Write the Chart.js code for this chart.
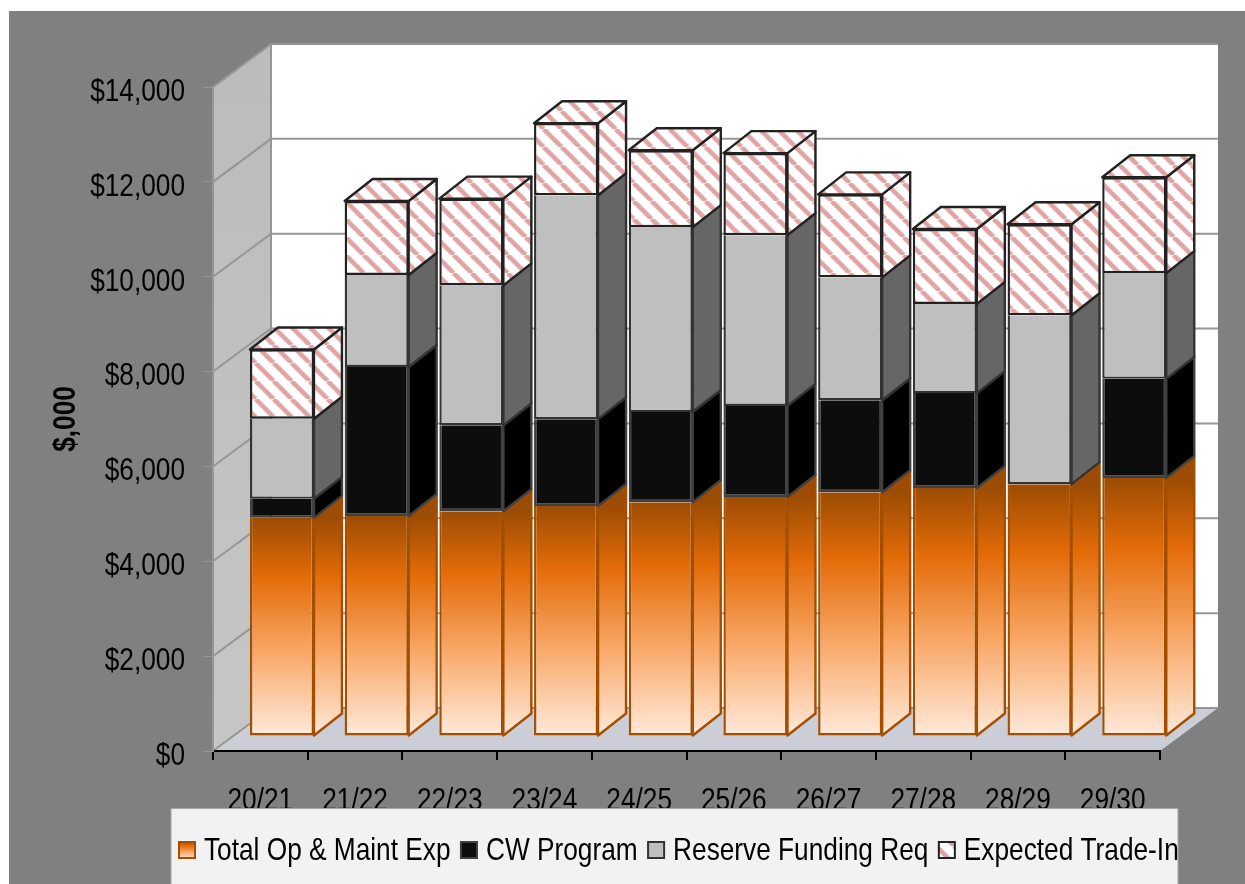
<!DOCTYPE html>
<html>
<head>
<meta charset="utf-8">
<title>Funding by year</title>
<script src="https://cdn.jsdelivr.net/npm/chart.js@4"></script>
<style>
  body { margin: 0; background: #fff; }
  canvas { display: block; }
</style>
</head>
<body>
<canvas id="barChart" width="1245" height="884"></canvas>
<script>
const years = ['20/21', '21/22', '22/23', '23/24', '24/25', '25/26', '26/27', '27/28', '28/29', '29/30'];
const seriesNames = ['Total Op & Maint Exp', 'CW Program', 'Reserve Funding Req', 'Expected Trade-In'];
const opMaint = [4600, 4640, 4740, 4850, 4930, 5040, 5140, 5230, 5310, 5440];
const cwProgram = [400, 3140, 1810, 1830, 1900, 1920, 1940, 2000, 0, 2090];
const reserve = [1690, 1940, 2950, 4720, 3900, 3600, 2590, 1880, 3560, 2230];
const tradeIn = [1460, 1560, 1830, 1520, 1620, 1730, 1750, 1580, 1920, 2020];

const fontName = '"Liberation Sans", Arial, sans-serif';
const textSqueeze = 0.82;

// how far the whole box runs back, and where the bars sit inside it
const wallDX = 58, wallDY = 43;
const barDX = 21.6, barDY = 15;
const sideDX = 28, sideDY = 22;
const edgeWidth = 2.4;

const canvas = document.getElementById('barChart');
const drawCtx = canvas.getContext('2d');

// all the lettering on this chart is condensed, so narrow every fillText around its anchor
const plainFillText = drawCtx.fillText;
drawCtx.fillText = function (text, x, y) {
  const dy = this.textBaseline === 'middle' ? 5 : 0;
  this.save();
  this.translate(x, y + dy);
  this.scale(textSqueeze, 1);
  plainFillText.call(this, text, 0, 0);
  this.restore();
};

function hatchPattern() {
  const tile = document.createElement('canvas');
  tile.width = 18;
  tile.height = 18;
  const t = tile.getContext('2d');
  t.fillStyle = '#fff';
  t.fillRect(0, 0, 18, 18);
  t.strokeStyle = '#e0a4a4';
  t.lineWidth = 4.6;
  [-18, 0, 18].forEach(function (off) {
    t.beginPath();
    t.moveTo(off, 0);
    t.lineTo(off + 18, 18);
    t.stroke();
  });
  return drawCtx.createPattern(tile, 'repeat');
}
const hatch = hatchPattern();

function orangeRamp(ctx2d, top, bottom) {
  const g = ctx2d.createLinearGradient(0, top, 0, bottom);
  g.addColorStop(0, '#9c4c04');
  g.addColorStop(0.27, '#e36b08');
  g.addColorStop(0.62, '#f8a868');
  g.addColorStop(1, '#ffeadb');
  return g;
}

function orangeFill(c) {
  const y = c.chart.scales.y;
  if (!y || !c.parsed) return '#e36b08';
  const top = y.getPixelForValue(c.parsed.y), bottom = y.getPixelForValue(0);
  if (!isFinite(top) || !isFinite(bottom)) return '#e36b08';
  return orangeRamp(c.chart.ctx, top, bottom);
}

// fills for the right hand face of each series
const sideFills = [null, '#000000', '#666666', null];

const boxPlugin = {
  id: 'box3d',
  beforeDraw(chart) {
    const c = chart.ctx, a = chart.chartArea, y = chart.scales.y;
    c.save();
    c.fillStyle = '#808080';
    c.fillRect(9, 11, chart.width - 9, chart.height - 11);

    // back wall
    c.fillStyle = '#ffffff';
    c.fillRect(a.left + wallDX, a.top - wallDY, a.right - a.left, a.bottom - a.top);

    // left wall
    const wall = c.createLinearGradient(0, a.top, 0, a.bottom);
    wall.addColorStop(0, '#bcbcbc');
    wall.addColorStop(1, '#c6c6c6');
    c.fillStyle = wall;
    c.beginPath();
    c.moveTo(a.left, a.top);
    c.lineTo(a.left + wallDX, a.top - wallDY);
    c.lineTo(a.left + wallDX, a.bottom - wallDY);
    c.lineTo(a.left, a.bottom);
    c.closePath();
    c.fill();

    // floor
    c.fillStyle = '#cbced7';
    c.beginPath();
    c.moveTo(a.left, a.bottom);
    c.lineTo(a.left + wallDX, a.bottom - wallDY);
    c.lineTo(a.right + wallDX, a.bottom - wallDY);
    c.lineTo(a.right, a.bottom);
    c.closePath();
    c.fill();

    // grid lines run along the left wall then across the back
    c.strokeStyle = '#969696';
    c.lineWidth = 2;
    y.ticks.forEach(function (tick) {
      const py = y.getPixelForValue(tick.value);
      c.beginPath();
      c.moveTo(a.left, py);
      c.lineTo(a.left + wallDX, py - wallDY);
      c.lineTo(a.right + wallDX, py - wallDY);
      c.stroke();
    });
    c.beginPath();
    c.moveTo(a.left + wallDX, a.top - wallDY);
    c.lineTo(a.left + wallDX, a.bottom - wallDY);
    c.stroke();
    c.restore();
  },
  beforeDatasetsDraw(chart) {
    chart.ctx.save();
    chart.ctx.translate(barDX, -barDY);
  },
  afterDatasetsDraw(chart) {
    const c = chart.ctx;
    const last = chart.data.datasets.length - 1;
    chart.data.datasets.forEach(function (ds, i) {
      chart.getDatasetMeta(i).data.forEach(function (bar) {
        if (Math.abs(bar.base - bar.y) < 0.5) return;
        const r = bar.x + bar.width / 2, l = bar.x - bar.width / 2;
        c.lineWidth = edgeWidth;
        c.lineJoin = 'round';
        c.strokeStyle = ds.borderColor;
        c.fillStyle = sideFills[i] || bar.options.backgroundColor;
        c.beginPath();
        c.moveTo(r, bar.y);
        c.lineTo(r + sideDX, bar.y - sideDY);
        c.lineTo(r + sideDX, bar.base - sideDY);
        c.lineTo(r, bar.base);
        c.closePath();
        c.fill();
        c.stroke();
        if (i === last) {
          c.fillStyle = hatch;
          c.beginPath();
          c.moveTo(l, bar.y);
          c.lineTo(l + sideDX, bar.y - sideDY);
          c.lineTo(r + sideDX, bar.y - sideDY);
          c.lineTo(r, bar.y);
          c.closePath();
          c.fill();
          c.stroke();
        }
      });
    });
    c.restore();
  },
  afterDraw(chart) {
    // legend panel sits on top of the year labels
    const c = chart.ctx;
    c.save();
    c.fillStyle = '#f2f2f2';
    c.strokeStyle = '#a6a6a6';
    c.lineWidth = 1;
    c.fillRect(171, 808, 1007, 76);
    c.beginPath();
    c.moveTo(171, 884);
    c.lineTo(171, 808.5);
    c.lineTo(1178, 808.5);
    c.lineTo(1178, 884);
    c.stroke();

    c.font = '32px ' + fontName;
    c.textBaseline = 'alphabetic';
    let x = 178;
    chart.data.datasets.forEach(function (ds, i) {
      c.fillStyle = i === 0 ? orangeRamp(c, 841, 859) : (i === 3 ? hatch : ds.backgroundColor);
      c.fillRect(x, 841, 18, 18);
      c.strokeStyle = ds.borderColor;
      c.lineWidth = 2;
      c.strokeRect(x + 1, 842, 16, 16);
      c.fillStyle = '#000';
      c.fillText(seriesNames[i], x + 26, 860);
      x += 26 + c.measureText(seriesNames[i]).width * textSqueeze + 9.5;
    });
    c.restore();
  }
};

new Chart(canvas, {
  type: 'bar',
  data: {
    labels: years,
    datasets: [
      { label: seriesNames[0], data: opMaint, backgroundColor: orangeFill, borderColor: '#a34e00', borderSkipped: 'top' },
      { label: seriesNames[1], data: cwProgram, backgroundColor: '#0d0d0d', borderColor: '#404040', borderSkipped: 'top' },
      { label: seriesNames[2], data: reserve, backgroundColor: '#bfbfbf', borderColor: '#333333', borderSkipped: 'top' },
      { label: seriesNames[3], data: tradeIn, backgroundColor: hatch, borderColor: '#222222', borderSkipped: false }
    ]
  },
  options: {
    responsive: false,
    animation: false,
    datasets: {
      bar: { categoryPercentage: 1, barPercentage: 0.676, borderWidth: edgeWidth }
    },
    layout: { padding: { left: 42, top: 87, right: 85, bottom: 0 } },
    plugins: {
      legend: { display: false },
      tooltip: { enabled: false }
    },
    scales: {
      x: {
        stacked: true,
        afterFit(scale) { scale.height = 133; },
        border: { color: '#000', width: 2 },
        grid: { drawOnChartArea: false, color: '#000', tickLength: 9, lineWidth: 2 },
        ticks: { color: '#000', padding: 17, maxRotation: 0, font: { family: fontName, size: 32 } }
      },
      y: {
        stacked: true,
        min: 0,
        max: 14000,
        afterFit(scale) { scale.width = 171; },
        border: { color: '#969696', width: 2 },
        grid: { drawOnChartArea: false, color: '#969696', tickLength: 10, lineWidth: 1 },
        title: { display: true, text: '$,000', color: '#000', padding: 0, font: { family: fontName, size: 32, weight: 'bold' } },
        ticks: {
          stepSize: 2000,
          color: '#000',
          padding: 18,
          font: { family: fontName, size: 32 },
          callback: function (v) { return '$' + v.toLocaleString('en-US'); }
        }
      }
    }
  },
  plugins: [boxPlugin]
});
</script>
</body>
</html>
